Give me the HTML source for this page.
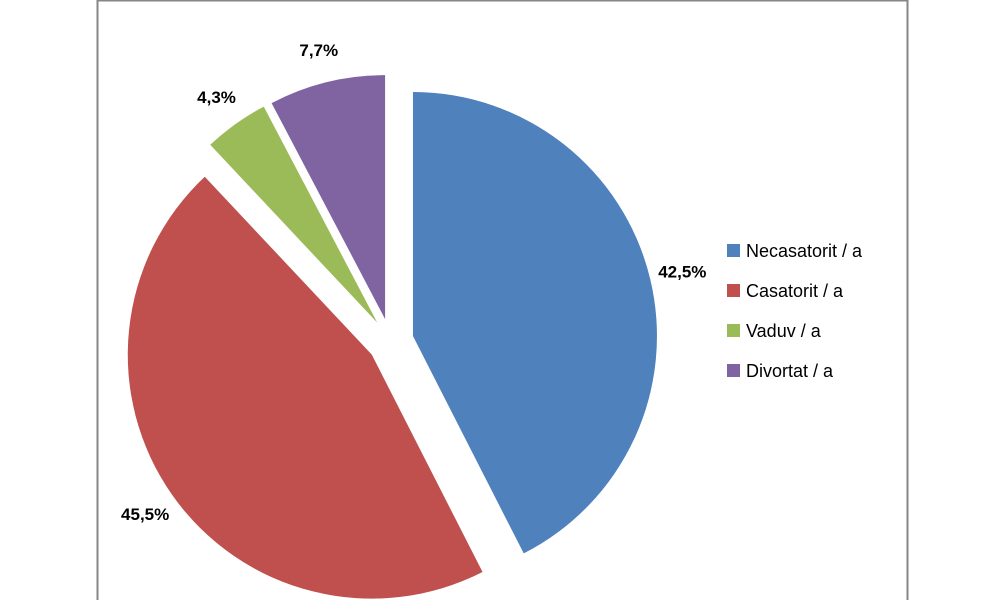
<!DOCTYPE html>
<html><head><meta charset="utf-8">
<style>
html,body{margin:0;padding:0;background:#fff;}
svg{display:block;font-family:"Liberation Sans",sans-serif;}
</style></head>
<body>
<svg id="chart" width="1000" height="600" viewBox="0 0 1000 600">
  <rect x="97.5" y="0.5" width="810" height="620" fill="#fff" stroke="#868686" stroke-width="2"/>
  <g id="slices"></g>
  <g id="labels"></g>
  <g id="legend"></g>
</svg>
<script>
const categories = ["Necasatorit / a", "Casatorit / a", "Vaduv / a", "Divortat / a"];
const values = [42.5, 45.5, 4.3, 7.7];
const valueLabels = ["42,5%", "45,5%", "4,3%", "7,7%"];
const colors = ["#4f81bd", "#c0504d", "#9bbb59", "#8064a2"];

const NS = "http://www.w3.org/2000/svg";
const cx = 390.6, cy = 341.4, r = 244, explode = 23, labelR = 300;
const total = values.reduce((a, b) => a + b, 0);
const sliceG = document.getElementById("slices");
const labelG = document.getElementById("labels");
const legendG = document.getElementById("legend");
function pt(ox, oy, rad, a) { return [ox + rad * Math.sin(a), oy - rad * Math.cos(a)]; }
let acc = 0;
values.forEach((v, i) => {
  const a0 = acc / total * 2 * Math.PI;
  acc += v;
  const a1 = acc / total * 2 * Math.PI;
  const mid = (a0 + a1) / 2;
  const ox = cx + explode * Math.sin(mid), oy = cy - explode * Math.cos(mid);
  const p0 = pt(ox, oy, r, a0), p1 = pt(ox, oy, r, a1);
  const large = (a1 - a0) > Math.PI ? 1 : 0;
  const path = document.createElementNS(NS, "path");
  path.setAttribute("d", `M${ox},${oy} L${p0[0]},${p0[1]} A${r},${r} 0 ${large} 1 ${p1[0]},${p1[1]} Z`);
  path.setAttribute("fill", colors[i]);
  
  
  sliceG.appendChild(path);
  const lp = pt(cx, cy, labelR, mid);
  const t = document.createElementNS(NS, "text");
  t.setAttribute("x", lp[0]);
  t.setAttribute("y", lp[1] + 6);
  t.setAttribute("text-anchor", "middle");
  t.setAttribute("font-size", "17");
  t.setAttribute("font-weight", "bold");
  t.setAttribute("fill", "#000");
  t.textContent = valueLabels[i];
  
  
  labelG.appendChild(t);
});
categories.forEach((c, i) => {
  const y = 250 + i * 40;
  const sw = document.createElementNS(NS, "rect");
  sw.setAttribute("x", 727); sw.setAttribute("y", y - 6);
  sw.setAttribute("width", 13); sw.setAttribute("height", 13);
  sw.setAttribute("fill", colors[i]);
  
  
  legendG.appendChild(sw);
  const t = document.createElementNS(NS, "text");
  t.setAttribute("x", 746); t.setAttribute("y", y + 7);
  t.setAttribute("font-size", "18");
  t.setAttribute("fill", "#000");
  t.textContent = c;
  
  
  legendG.appendChild(t);
});
</script>
</body></html>
